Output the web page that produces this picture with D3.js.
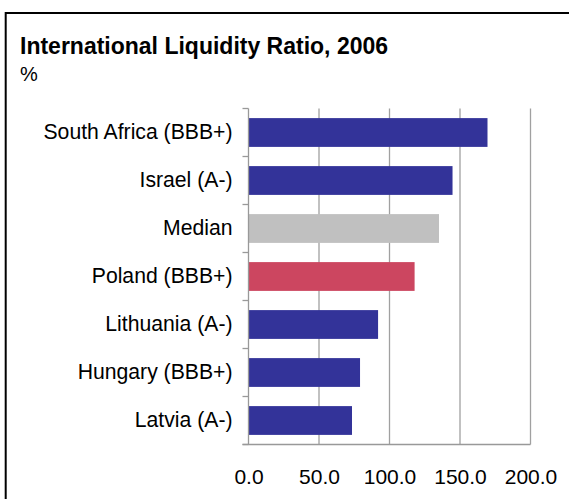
<!DOCTYPE html>
<html>
<head>
<meta charset="utf-8">
<script src="https://cdn.jsdelivr.net/npm/d3@7"></script>
<style>
  html, body { margin: 0; padding: 0; background: #fff; }
  svg { display: block; font-family: "Liberation Sans", Arial, sans-serif; }
</style>
</head>
<body>
<svg id="chart" width="569" height="499"></svg>
<script>
// International liquidity ratio by country, 2006 (%)
const categories = [
  "South Africa (BBB+)",
  "Israel (A-)",
  "Median",
  "Poland (BBB+)",
  "Lithuania (A-)",
  "Hungary (BBB+)",
  "Latvia (A-)"
];
const values = [169.5, 144.7, 135.1, 117.8, 91.9, 79.1, 73.4];
const groups = ["peer", "peer", "median", "focus", "peer", "peer", "peer"];
const tickValues = [0, 50, 100, 150, 200];

const title = "International Liquidity Ratio, 2006";
const unit = "%";

const svg = d3.select("#chart");

// frame
svg.append("rect")
  .attr("x", 5.7).attr("y", 13)
  .attr("width", 600).attr("height", 600)
  .attr("fill", "none")
  .attr("stroke", "#000")
  .attr("stroke-width", 2);

svg.append("text")
  .attr("x", 20).attr("y", 54)
  .attr("font-size", 23)
  .attr("font-weight", "bold")
  .attr("fill", "#000")
  .text(title);

svg.append("text")
  .attr("x", 20).attr("y", 80.5)
  .attr("font-size", 20)
  .attr("fill", "#000")
  .text(unit);

const plotLeft = 248.5, plotRight = 530.5, plotTop = 108.5, plotBottom = 444.5;

const x = d3.scaleLinear().domain([0, 200]).range([plotLeft, plotRight]);
const y = d3.scaleBand().domain(categories).range([plotTop, plotBottom])
  .paddingInner(0.4).paddingOuter(0.2);
const yEdges = d3.scaleBand().domain(categories).range([plotTop, plotBottom]);

const color = d3.scaleOrdinal()
  .domain(["peer", "median", "focus"])
  .range(["#333399", "#c0c0c0", "#cc4660"]);

// vertical gridlines
svg.append("g")
  .selectAll("line")
  .data(tickValues.slice(1))
  .join("line")
  .attr("x1", d => x(d)).attr("x2", d => x(d))
  .attr("y1", plotTop).attr("y2", plotBottom)
  .attr("stroke", "#a0a0a0")
  .attr("stroke-width", 1.3);

// bars
svg.append("g")
  .selectAll("rect")
  .data(categories)
  .join("rect")
  .attr("x", x(0))
  .attr("y", d => y(d))
  .attr("width", (d, i) => x(values[i]) - x(0))
  .attr("height", y.bandwidth())
  .attr("fill", (d, i) => color(groups[i]));

// category axis: line plus ticks on band boundaries
const axisG = svg.append("g");
axisG.append("line")
  .attr("x1", plotLeft).attr("x2", plotLeft)
  .attr("y1", plotTop).attr("y2", plotBottom)
  .attr("stroke", "#999").attr("stroke-width", 1.3);
const edges = categories.map(c => yEdges(c)).concat([plotBottom]);
axisG.selectAll("line.tick")
  .data(edges)
  .join("line")
  .attr("class", "tick")
  .attr("x1", plotLeft - 6).attr("x2", plotLeft)
  .attr("y1", d => d).attr("y2", d => d)
  .attr("stroke", "#999").attr("stroke-width", 1.3);

axisG.selectAll("text")
  .data(categories)
  .join("text")
  .attr("x", plotLeft - 16)
  .attr("y", d => yEdges(d) + yEdges.bandwidth() / 2)
  .attr("dy", "0.33em")
  .attr("text-anchor", "end")
  .attr("font-size", 21.2)
  .attr("fill", "#000")
  .text(d => d);

// value axis
const xAxis = d3.axisBottom(x)
  .tickValues(tickValues)
  .tickFormat(d3.format(".1f"))
  .tickSize(0)
  .tickPadding(24.5);
const xg = svg.append("g")
  .attr("transform", `translate(0,${plotBottom})`)
  .call(xAxis);
xg.select(".domain").remove();
xg.selectAll("text")
  .attr("font-size", 21)
  .attr("font-family", "'Liberation Sans', Arial, sans-serif")
  .attr("fill", "#000");
svg.append("line")
  .attr("x1", plotLeft - 6).attr("x2", plotRight)
  .attr("y1", plotBottom).attr("y2", plotBottom)
  .attr("stroke", "#999").attr("stroke-width", 1.3);
</script>
</body>
</html>
